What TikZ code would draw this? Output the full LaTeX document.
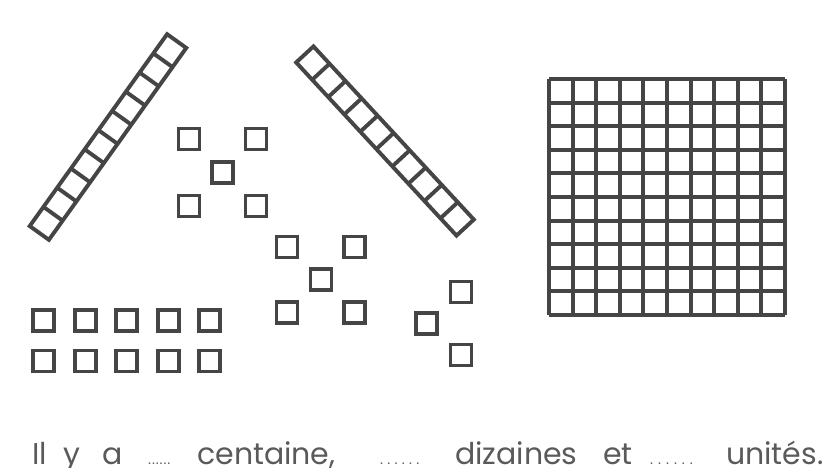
\documentclass[tikz,border=0pt]{standalone}
\usepackage{fontspec}
\setmainfont{Poppins}
\newcommand{\gapdots}[1]{.\hspace{#1}.\hspace{#1}.\hspace{#1}.\hspace{#1}.\hspace{#1}.}
\begin{document}
\begin{tikzpicture}[x=1pt,y=-1pt,
  ink/.style={draw=inkc,line width=3.9pt},
  unitsq/.style={ink,minimum size=21pt,inner sep=0pt,outer sep=0pt},
  word/.style={anchor=base west,inner sep=0pt,text=txtc,font=\fontsize{30}{31}\selectfont},
  dotw/.style={anchor=base west,inner sep=0pt,text=txtc,font=\fontsize{14}{15}\selectfont}]
\definecolor{inkc}{HTML}{454545}
\definecolor{txtc}{HTML}{5A5A5A}
\useasboundingbox[fill=white] (0,0) rectangle (831,468);
\def\c{23.6}
% left rod
\begin{scope}[shift={(108,137)},rotate=54.4]
  \draw[ink,line join=miter] (-5*\c,-\c/2) rectangle (5*\c,\c/2);
  \foreach \i in {1,...,9} \draw[ink] (-5*\c+\i*\c,-\c/2) -- (-5*\c+\i*\c,\c/2);
\end{scope}
% right rod
\begin{scope}[shift={(385,141)},rotate=-47.2]
  \draw[ink,line join=miter] (-5*\c,-\c/2) rectangle (5*\c,\c/2);
  \foreach \i in {1,...,9} \draw[ink] (-5*\c+\i*\c,-\c/2) -- (-5*\c+\i*\c,\c/2);
\end{scope}
% hundred square
\foreach \i in {0,...,10} {
  \draw[ink] (549+\i*\c,79) -- (549+\i*\c,79+10*\c);
  \draw[ink] (549,79+\i*\c) -- (549+10*\c,79+\i*\c);
}
% units
\foreach \i in {0,...,4} {
  \node[unitsq] (ra\i) at (43.5+\i*41.6,320.5) {};
  \node[unitsq] (rb\i) at (43.5+\i*41.6,361) {};
}
\node[unitsq] (g1a) at (189,139) {};
\node[unitsq] (g1b) at (256,139) {};
\node[unitsq] (g1c) at (222.5,172.5) {};
\node[unitsq] (g1d) at (189,206) {};
\node[unitsq] (g1e) at (256,206) {};
\node[unitsq] (g2a) at (287,247) {};
\node[unitsq] (g2b) at (354.5,247) {};
\node[unitsq] (g2c) at (321,279.5) {};
\node[unitsq] (g2d) at (287,312.5) {};
\node[unitsq] (g2e) at (354.5,312.5) {};
\node[unitsq] (g3a) at (461,292) {};
\node[unitsq] (g3b) at (426.5,323.5) {};
\node[unitsq] (g3c) at (461,355) {};
% sentence
\node[word] (w1) at (32,464) {Il};
\node[word] (w2) at (63,464) {y};
\node[word] (w3) at (102,464) {a};
\node[dotw] (d1) at (148,464) {\gapdots{0.9pt}};
\node[word] (w4) at (197,464) {centaine,};
\node[dotw] (d2) at (380,464) {\gapdots{4.3pt}};
\node[word] (w5) at (455,464) {dizaines};
\node[word] (w6) at (603,464) {et};
\node[dotw] (d3) at (650,464) {\gapdots{5pt}};
\node[word] (w7) at (726,464) {unités.};
\end{tikzpicture}
\end{document}
